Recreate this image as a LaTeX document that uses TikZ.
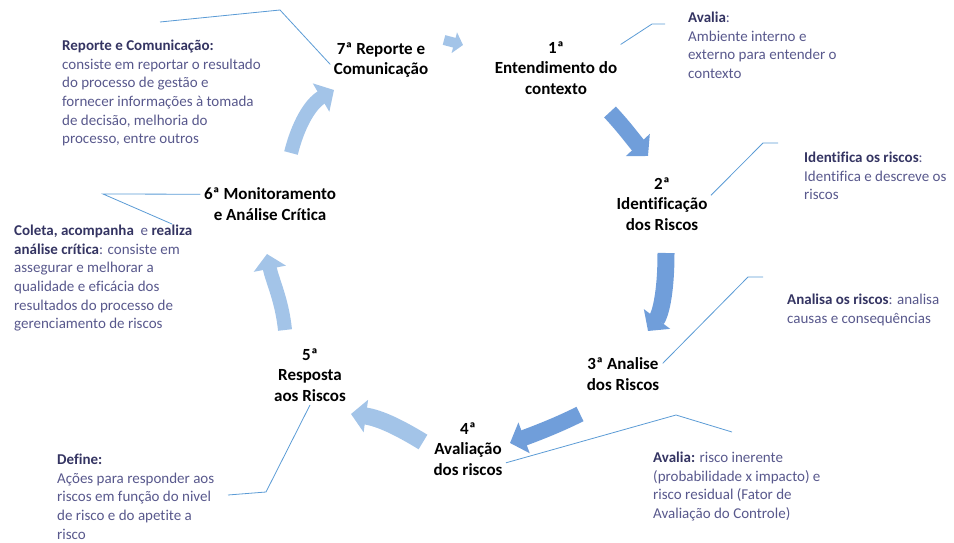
\documentclass[tikz,border=0pt]{standalone}
\usepackage{fontspec}
\setmainfont{Carlito}[Ligatures=NoCommon]
\usetikzlibrary{arrows.meta}
\definecolor{notehead}{RGB}{52,52,98}
\definecolor{notetext}{RGB}{88,88,140}
\definecolor{leadblue}{RGB}{91,155,213}
\definecolor{flowdark}{RGB}{112,158,218}
\definecolor{flowlight}{RGB}{163,196,232}
\newcommand{\hd}[1]{{\color{notehead}\bfseries #1}}

\begin{document}
\begin{tikzpicture}[x=1pt,y=-1pt,
    stage/.style={font=\fontsize{17}{20.5}\selectfont\bfseries,align=center},
    note/.style={font=\fontsize{15}{18.6}\selectfont,text=notetext,align=left,anchor=north west,inner sep=0pt},
    lead/.style={draw=leadblue,line width=0.8pt},
    flow/.style={line width=#1,-{Triangle[length=15pt,width=32pt]}}]
      \useasboundingbox (0,0) rectangle (954,543);
      % etapas do ciclo
      \node[stage] (s1) at (556,68) {1ª\\Entendimento do\\contexto};
      \node[stage] (s2) at (662,204) {2ª\\Identificação\\dos Riscos};
      \node[stage] (s3) at (623,374) {3ª Analise\\dos Riscos};
      \node[stage] (s4) at (468,449) {4ª\\Avaliação\\dos riscos};
      \node[stage] (s5) at (310,375) {5ª\\Resposta\\aos Riscos};
      \node[stage] (s6) at (270,204) {6ª Monitoramento\\e Análise Crítica};
      \node[stage] (s7) at (381,60) {7ª Reporte e\\Comunicação};
      % notas
      \node[note] (n7) at (62,40) {\hd{Reporte e Comunicação:}\\consiste em reportar o resultado\\do processo de gestão e\\fornecer informações à tomada\\de decisão, melhoria do\\processo, entre outros};
      \node[note] (n1) at (688,12) {\hd{Avalia}:\\Ambiente interno e\\externo para entender o\\contexto};
      \node[note] (n2) at (804,152) {\hd{Identifica os riscos}:\\Identifica e descreve os\\riscos};
      \node[note] (n3) at (787,294) {\hd{Analisa os riscos}: analisa\\causas e consequências};
      \node[note] (n4) at (653,452) {\hd{Avalia:} risco inerente\\(probabilidade x impacto) e\\risco residual (Fator de\\Avaliação do Controle)};
      \node[note] (n5) at (57,454) {\hd{Define:}\\Ações para responder aos\\riscos em função do nivel\\de risco e do apetite a\\risco};
      \node[note] (n6) at (14,225) {\hd{Coleta, acompanha}~ e \hd{realiza}\\\hd{análise crítica}: consiste em\\assegurar e melhorar a\\qualidade e eficácia dos\\resultados do processo de\\gerenciamento de riscos};
      % pontas livres das setas
      \coordinate (f1a) at (444,40);  \coordinate (f1b) at (463,45);
      \coordinate (f2a) at (610,112); \coordinate (f2b) at (648,156);
      \coordinate (f3a) at (666,253); \coordinate (f3b) at (648,331);
      \coordinate (f4a) at (580,414); \coordinate (f4b) at (510,443);
      \coordinate (f5a) at (423,442); \coordinate (f5b) at (351,414);
      \coordinate (f6a) at (285,330); \coordinate (f6b) at (267,254);
      \coordinate (f7a) at (291,153); \coordinate (f7b) at (334,90);
      \draw[flowlight,line width=10pt,-{Triangle[length=9pt,width=21pt]}] (f1a) -- (f1b);
      \draw[flow=16pt,flowdark] (f2a) .. controls (625,128) and (635,142) .. (f2b);
      \draw[flow=17pt,flowdark] (f3a) .. controls (666,295) and (660,315) .. (f3b);
      \draw[flow=16pt,flowdark] (f4a) .. controls (560,424) and (540,432) .. (f4b);
      \draw[flow=17pt,flowlight] (f5a) .. controls (400,428) and (380,418) .. (f5b);
      \draw[flow=14pt,flowlight] (f6a) .. controls (282,300) and (272,280) .. (f6b);
      \draw[flow=14pt,flowlight] (f7a) .. controls (298,125) and (310,104) .. (f7b);
      % linhas de chamada
      \draw[lead] (s1.20) -- (652,24) -- (665,24);
      \draw[lead] (s2.10) -- (763,143) -- (778,143);
      \draw[lead] (s3.15) -- (748,277) -- (763,277);
      \draw[lead] (s4.-20) -- (676,415) -- (732,432);
      \draw[lead] (s5.south) -- (266,492) -- (228,495);
      \draw[lead] (s6.172) -- (103,194) -- (172,224);
      \draw[lead] (s7.185) -- (280,10) -- (160,22);
    \end{tikzpicture}
\end{document}
